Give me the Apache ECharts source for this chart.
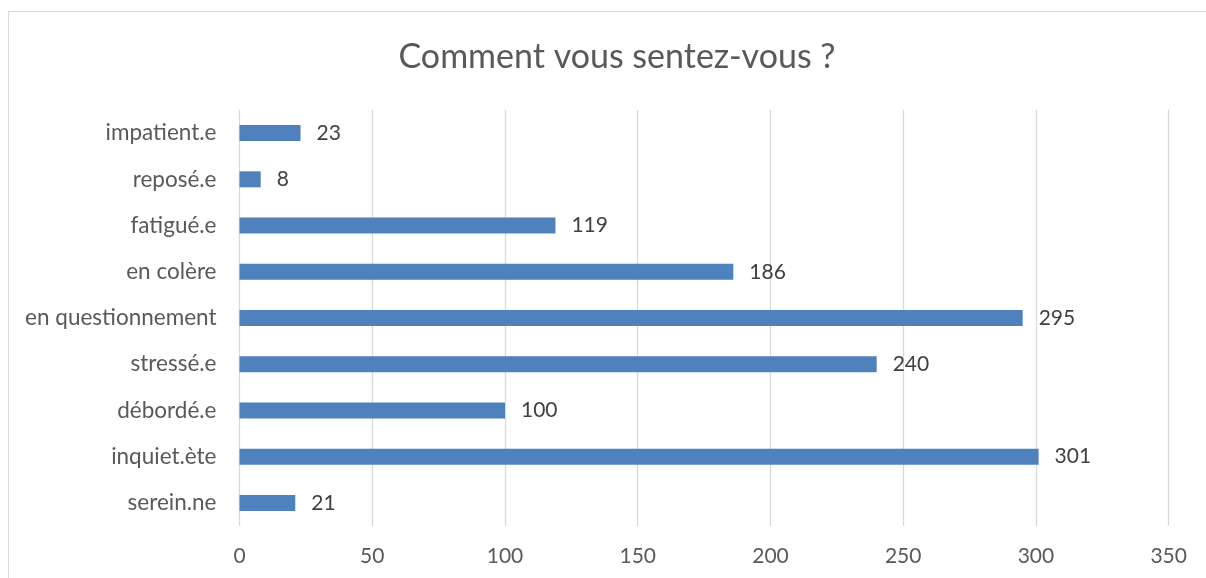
<!DOCTYPE html>
<html>
<head>
<meta charset="utf-8">
<script src="https://cdn.jsdelivr.net/npm/echarts@6/dist/echarts.min.js"></script>
<style>
  body{margin:0;background:#fff;overflow:hidden;}
  #frame{position:absolute;left:8px;top:11px;width:1300px;height:700px;border:1px solid #d9d9d9;}
  #main{position:absolute;left:0;top:0;width:1206px;height:578px;}
</style>
</head>
<body>
<div id="frame"></div>
<div id="main"></div>
<script>
var categories=['serein.ne','inquiet.ète','débordé.e','stressé.e','en questionnement','en colère','fatigué.e','reposé.e','impatient.e'];
var values=[21,301,100,240,295,186,119,8,23];

var font='Lato';
var txt='#595959';

var option={
  animation:false,
  title:{
    text:'Comment vous sentez-vous ?',
    left:'612',
    textAlign:'center',
    top:35,
    textStyle:{fontFamily:font,fontSize:34,fontWeight:'normal',color:txt}
  },
  grid:{left:239.5,right:37.3,top:110,height:416,containLabel:false},
  xAxis:{
    type:'value',
    min:0,max:350,interval:50,
    axisLine:{show:false},
    axisTick:{show:false},
    splitLine:{show:true,lineStyle:{color:'#d9d9d9',width:1.3}},
    axisLabel:{fontFamily:font,fontSize:21,color:txt,margin:20}
  },
  yAxis:{
    type:'category',
    data:categories,
    axisLine:{show:false},
    axisTick:{show:false},
    axisLabel:{fontFamily:font,fontSize:22.5,color:txt,margin:23}
  },
  series:[{
    type:'bar',
    data:values,
    barWidth:16,
    itemStyle:{color:'#4f81bd'},
    label:{show:true,position:'right',distance:16,fontFamily:font,fontSize:21,color:'#404040'}
  }]
};
var chart=echarts.init(document.getElementById('main'));
chart.setOption(option);
</script>
</body>
</html>
